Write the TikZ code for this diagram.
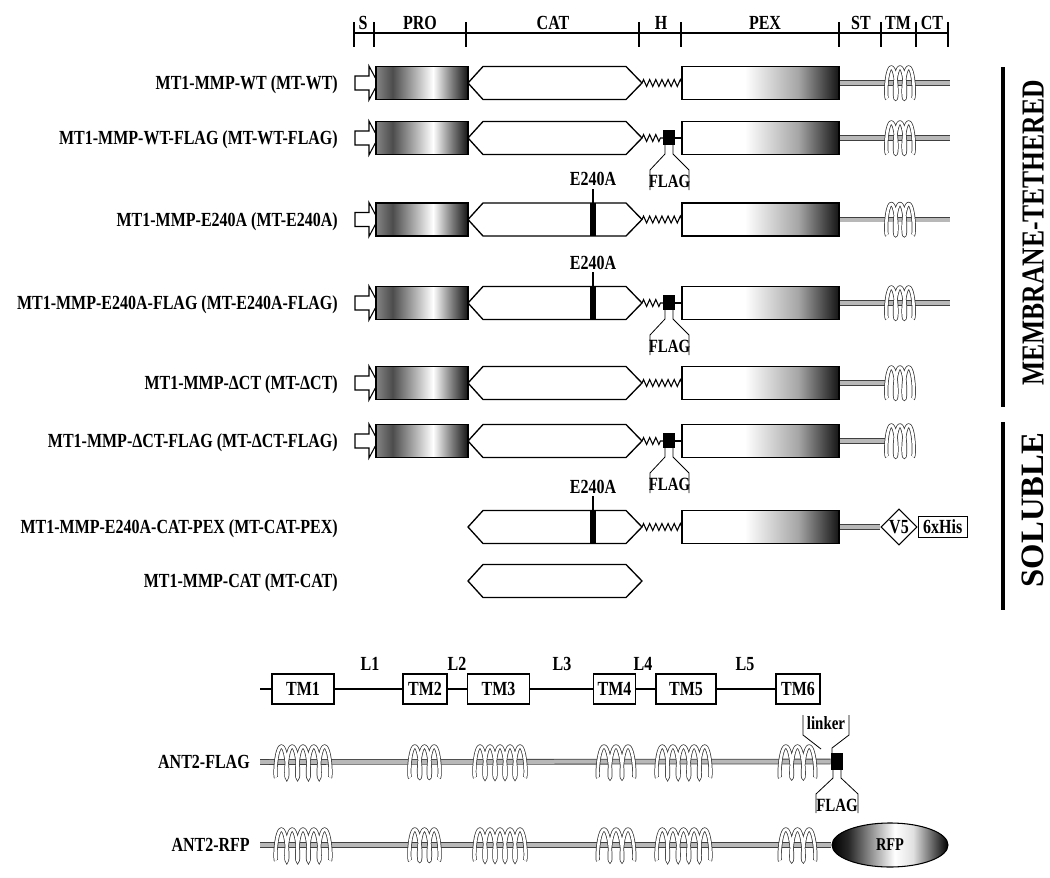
\documentclass[tikz,border=0pt]{standalone}
\usepackage{fontspec}
\setmainfont{Liberation Serif}[FakeStretch=0.8]
\newfontfamily\widefont{Liberation Serif}
\usetikzlibrary{decorations.pathmorphing,shapes.geometric}

\pgfdeclarehorizontalshading{proshade}{100bp}{color(0bp)=(black!48); color(25bp)=(black!48); color(34bp)=(black!70); color(56bp)=(white); color(66bp)=(black!50); color(75bp)=(black!92); color(100bp)=(black!92)}
\pgfdeclarehorizontalshading{pexshade}{100bp}{color(0bp)=(white); color(25bp)=(white); color(45bp)=(white); color(62bp)=(black!35); color(75bp)=(black!92); color(100bp)=(black!92)}
\pgfdeclarehorizontalshading{rfpshade}{100bp}{color(0bp)=(black); color(25bp)=(black); color(32bp)=(black!85); color(52bp)=(white); color(60bp)=(black!12); color(75bp)=(black); color(100bp)=(black)}

\tikzset{
  outl/.style={draw=black,line width=1pt},
  lbl/.style={font=\bfseries\fontsize{15}{18}\selectfont,inner sep=0pt},
  slbl/.style={font=\bfseries\fontsize{14}{16}\selectfont,inner sep=0pt},
  zz/.style={decorate,decoration={zigzag,segment length=4.6pt,amplitude=2.6pt},line width=0.8pt},
  stalk/.style={draw=black!75,line width=0.6pt,double=black!28,double distance=3pt},
  coilst/.style={draw=black!80,line width=0.55pt,double=white,double distance=2pt},
  tagline/.style={line width=0.6pt},
  ruler/.style={line width=1.1pt},
  divider/.style={line width=2.3pt},
}

\newcommand{\sigpep}[1]{\draw[outl,fill=white,line width=0.8pt] (355,#1-7) -- (369,#1-7) -- (369,#1-17) -- (378,#1) -- (369,#1+17) -- (369,#1+7) -- (355,#1+7) -- cycle;}
\newcommand{\prodom}[1]{\shade[outl,shading=proshade] (376,#1-16.5) rectangle (468,#1+16.5);}
\newcommand{\catdom}[1]{\draw[outl,fill=white] (468,#1) -- (483,#1-16.5) -- (626,#1-16.5) -- (642,#1) -- (626,#1+16.5) -- (483,#1+16.5) -- cycle;}
\newcommand{\pexdom}[1]{\shade[outl,shading=pexshade] (682,#1-16.5) rectangle (839,#1+16.5);}
\newcommand{\hinge}[1]{\draw[zz] (642,#1) -- (682,#1);}
\newcommand{\hingeflag}[2]{%
  \draw[zz] (642,#1) -- (663,#1);
  \draw[line width=0.8pt] (675,#1) -- (682,#1);
  \fill (663,#1-8) rectangle (675,#1+7);
  \draw[tagline] (665,#1+7) -- (665,#1+16) -- (650,#1+32) -- (650,#1+52);
  \draw[tagline] (673,#1+7) -- (673,#1+16) -- (689,#1+32) -- (689,#1+52);
  \node[slbl,anchor=base] (#2) at (669.5,#1+49) {FLAG};}
\newcommand{\mutmark}[2]{%
  \fill (590,#1-16.5) rectangle (596,#1+16.5);
  \draw[line width=0.8pt] (593,#1-16.5) -- (593,#1-31);
  \node[lbl,anchor=base] (#2) at (593,#1-34) {E240A};}
\newcommand{\coil}[4]{\draw[coilst] plot[domain=0:{6.2832*#4},samples=151,smooth,variable=\t] ({#1+3+(#2-#1-6)*\t/(6.2832*#4)-2.6*sin(\t r)},{#3+15.5*cos(\t r)});}
\newcommand{\tmtail}[1]{\draw[stalk] (839,#1) -- (950,#1); \coil{884}{916}{#1}{3}}
\newcommand{\tmshort}[1]{\draw[stalk] (839,#1) -- (888,#1); \coil{884}{916}{#1}{3}}

\begin{document}
\begin{tikzpicture}[x=0.75pt,y=-0.75pt]
\useasboundingbox (0,0) rectangle (1050,878);

% ruler
\draw[ruler] (354,33) -- (948,33);
\foreach \tx in {354,374,466,639,681,839,881,916,948} \draw[ruler] (\tx,22) -- (\tx,47);
\foreach \tx/\tl/\tn in {363/S/rS,420/PRO/rPRO,553/CAT/rCAT,661/H/rH,765/PEX/rPEX,861/ST/rST,898/TM/rTM,932/CT/rCT}
  \node[lbl,anchor=base] (\tn) at (\tx,29) {\tl};

% row labels
\foreach \ry/\rt/\rn in {83/{MT1-MMP-WT (MT-WT)}/l1,
  138/{MT1-MMP-WT-FLAG (MT-WT-FLAG)}/l2,
  219.5/{MT1-MMP-E240A (MT-E240A)}/l3,
  303/{MT1-MMP-E240A-FLAG (MT-E240A-FLAG)}/l4,
  383/{MT1-MMP-ΔCT (MT-ΔCT)}/l5,
  441/{MT1-MMP-ΔCT-FLAG (MT-ΔCT-FLAG)}/l6,
  527/{MT1-MMP-E240A-CAT-PEX (MT-CAT-PEX)}/l7,
  581/{MT1-MMP-CAT (MT-CAT)}/l8}
  \node[lbl,anchor=base east] (\rn) at (338,\ry+6.7) {\rt};

% row 1
\sigpep{83}\prodom{83}\hinge{83}\catdom{83}\tmtail{83}\pexdom{83}
% row 2
\sigpep{138}\prodom{138}\hingeflag{138}{f2}\catdom{138}\tmtail{138}\pexdom{138}
% row 3
\sigpep{219.5}\prodom{219.5}\hinge{219.5}\catdom{219.5}\mutmark{219.5}{m3}\tmtail{219.5}\pexdom{219.5}
% row 4
\sigpep{303}\prodom{303}\hingeflag{303}{f4}\catdom{303}\mutmark{303}{m4}\tmtail{303}\pexdom{303}
% row 5
\sigpep{383}\prodom{383}\hinge{383}\catdom{383}\tmshort{383}\pexdom{383}
% row 6
\sigpep{441}\prodom{441}\hingeflag{441}{f6}\catdom{441}\tmshort{441}\pexdom{441}
% row 7
\hinge{527}\catdom{527}\mutmark{527}{m7}
\node[diamond,draw,fill=white,line width=0.8pt,minimum width=27pt,minimum height=27pt,inner sep=0pt,font=\bfseries\fontsize{15}{18}\selectfont] (v5) at (899,527) {V5};
\node[draw,fill=white,line width=0.7pt,anchor=west,minimum height=16pt,minimum width=37pt,inner sep=2pt,font=\bfseries\fontsize{15}{18}\selectfont] (his) at (v5.east) {6xHis};
\coordinate (p7) at (839,527);
\draw[stalk] (p7) -- (v5.west);
\pexdom{527}
% row 8
\catdom{581}

% side dividers
\draw[divider] (1003,67) -- (1003,407);
\draw[divider] (1003,422) -- (1003,610);
\node[font=\bfseries\fontsize{24}{28}\selectfont,rotate=90,inner sep=0pt] (memb) at (1033,233) {MEMBRANE-TETHERED};
\node[font=\widefont\bfseries\fontsize{24.5}{28}\selectfont,rotate=90,inner sep=0pt] (sol) at (1033,510) {SOLUBLE};

% topology
\tikzset{tmbox/.style={draw,fill=white,line width=0.9pt,inner sep=0pt,minimum height=22.5pt,font=\bfseries\fontsize{15}{18}\selectfont}}
\coordinate (t0) at (260,689);
\node[tmbox,minimum width=46.5pt] (TM1) at (303,689) {TM1};
\node[tmbox,minimum width=33pt] (TM2) at (425,689) {TM2};
\node[tmbox,minimum width=47pt] (TM3) at (498.5,689) {TM3};
\node[tmbox,minimum width=31pt] (TM4) at (614.5,689) {TM4};
\node[tmbox,minimum width=45pt] (TM5) at (686,689) {TM5};
\node[tmbox,minimum width=33pt] (TM6) at (798,689) {TM6};
\draw[line width=0.9pt] (t0) -- (TM1) -- (TM2) -- (TM3) -- (TM4) -- (TM5) -- (TM6);
\foreach \lx/\lt in {370/L1,457/L2,562/L3,643/L4,745/L5}
  \node[lbl,anchor=base] (lab\lt) at (\lx,670) {\lt};

% ANT2-FLAG
\node[lbl,anchor=base east] (antf) at (250,768.5) {ANT2-FLAG};
\coordinate (af0) at (260,762);
\node[fill=black,inner sep=0pt,minimum width=9pt,minimum height=12.75pt] (afsq) at (837,761.5) {};
\draw[stalk] (af0) -- (afsq.west);
\coil{273}{333}{762}{5}\coil{407}{442}{762}{3}\coil{472}{528}{762}{5}
\coil{595}{637}{762}{3}\coil{654}{713}{762}{5}\coil{777}{818}{762}{3}
\draw[tagline] (821,749) -- (803,735) -- (803,715);
\draw[tagline] (832,753) -- (832,748) -- (849,735) -- (849,715);
\node[slbl,anchor=base] (linker) at (826,729) {linker};
\draw[tagline] (833,770) -- (833,778) -- (816,794) -- (816,813);
\draw[tagline] (841,770) -- (841,778) -- (858,794) -- (858,813);
\node[slbl,anchor=base] (aflag) at (837,811) {FLAG};

% ANT2-RFP
\node[lbl,anchor=base east] (antr) at (250,851.5) {ANT2-RFP};
\coordinate (ar0) at (260,845);
\node[ellipse,shade,shading=rfpshade,draw,line width=0.8pt,minimum width=87pt,minimum height=33pt,inner sep=0pt,font=\bfseries\fontsize{13.5}{15}\selectfont] (rfp) at (890,845) {RFP};
\draw[stalk] (ar0) -- (rfp.west);
\coil{273}{333}{845}{5}\coil{407}{442}{845}{3}\coil{472}{528}{845}{5}
\coil{595}{637}{845}{3}\coil{654}{713}{845}{5}\coil{777}{818}{845}{3}
\end{tikzpicture}
\end{document}
